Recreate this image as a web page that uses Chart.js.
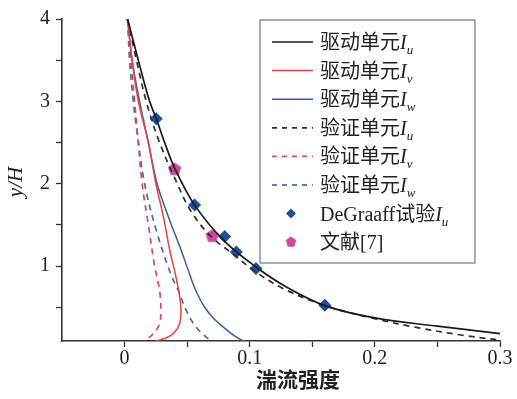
<!DOCTYPE html>
<html>
<head>
<meta charset="utf-8">
<script src="https://cdn.jsdelivr.net/npm/chart.js@4/dist/chart.umd.min.js"></script>
<style>
  body { margin: 0; background: #fff; }
  #wrap { width: 517px; height: 399px; }
</style>
</head>
<body>
<div id="wrap"><canvas id="myChart" width="517" height="399"></canvas></div>
<script>
// curves: x = turbulence intensity, y = y/H
var driveIuX = [0.0024, 0.012, 0.020, 0.0253, 0.032, 0.040, 0.056, 0.080, 0.1067, 0.13, 0.16, 0.20, 0.25, 0.30];
var driveIuY = [4.0, 3.44, 3.0, 2.79, 2.5, 2.19, 1.74, 1.30, 0.97, 0.74, 0.52, 0.37, 0.27, 0.18];

var driveIvX = [0.0024, 0.006, 0.011, 0.019, 0.025, 0.031, 0.036, 0.042, 0.045, 0.044, 0.039, 0.032, 0.025];
var driveIvY = [4.0, 3.5, 3.0, 2.5, 2.0, 1.6, 1.2, 0.8, 0.5, 0.3, 0.18, 0.12, 0.09];

var driveIwX = [0.0024, 0.006, 0.012, 0.019, 0.026, 0.035, 0.045, 0.052, 0.057, 0.064, 0.072, 0.082, 0.090, 0.095];
var driveIwY = [4.0, 3.5, 3.0, 2.5, 2.0, 1.6, 1.2, 0.9, 0.7, 0.5, 0.35, 0.22, 0.13, 0.09];

var verifyIuX = [0.0024, 0.0095, 0.0173, 0.0267, 0.040, 0.0533, 0.069, 0.088, 0.101, 0.125, 0.16, 0.20, 0.235, 0.27, 0.30];
var verifyIuY = [4.0, 3.5, 3.0, 2.55, 2.07, 1.66, 1.36, 1.13, 0.97, 0.74, 0.52, 0.36, 0.25, 0.16, 0.10];

var verifyIvX = [0.0024, 0.005, 0.008, 0.011, 0.014, 0.019, 0.024, 0.028, 0.029, 0.028, 0.023, 0.017];
var verifyIvY = [4.0, 3.5, 3.0, 2.5, 2.0, 1.5, 1.0, 0.7, 0.47, 0.3, 0.18, 0.10];

var verifyIwX = [0.0024, 0.004, 0.007, 0.0093, 0.016, 0.026, 0.037, 0.043, 0.049, 0.057, 0.068];
var verifyIwY = [4.0, 3.5, 3.0, 2.7, 2.0, 1.4, 0.9, 0.7, 0.47, 0.26, 0.10];

var degraaffX = [0.0253, 0.056, 0.080, 0.0893, 0.105, 0.16];
var degraaffY = [2.79, 1.74, 1.36, 1.17, 0.97, 0.524];

var refX = [0.040, 0.070];
var refY = [2.18, 1.37];

var legendNames = ['驱动单元', '驱动单元', '驱动单元', '验证单元', '验证单元', '验证单元', 'DeGraaff试验', '文献[7]'];
var legendSubs = ['u', 'v', 'w', 'u', 'v', 'w', 'u', ''];

var xTicks = [0, 0.05, 0.1, 0.15, 0.2, 0.25, 0.3];
var xLabels = [0, 0.1, 0.2, 0.3];
var yTicks = [0.5, 1, 1.5, 2, 2.5, 3, 3.5, 4];
var yLabels = [1, 2, 3, 4];

var serif = '"Liberation Serif", "Noto Sans CJK SC", serif';

function pts(xs, ys) {
    return xs.map(function (x, i) { return { x: x, y: ys[i] }; });
}

// pentagon marker for 文献[7]
var penta = document.createElement('canvas');
penta.width = 15; penta.height = 15;
(function () {
    var c = penta.getContext('2d');
    c.fillStyle = '#cc4a9b';
    c.beginPath();
    for (var k = 0; k < 5; k++) {
        var a = -Math.PI / 2 + k * 2 * Math.PI / 5;
        var px = 7.5 + 7 * Math.cos(a), py = 8 + 7 * Math.sin(a);
        if (k == 0) c.moveTo(px, py); else c.lineTo(px, py);
    }
    c.closePath();
    c.fill();
})();

function lineSet(xs, ys, color, dash, width, i) {
    return {
        data: pts(xs, ys),
        showLine: true,
        borderColor: color,
        borderWidth: width,
        borderDash: dash,
        pointRadius: 0,
        tension: 0.35,
        fill: false,
        legendText: legendNames[i],
        legendSub: legendSubs[i]
    };
}

var datasets = [
    lineSet(driveIuX, driveIuY, '#1a1a1a', [], 1.7, 0),
    lineSet(driveIvX, driveIvY, '#e8423f', [], 1.5, 1),
    lineSet(driveIwX, driveIwY, '#3b5ba5', [], 1.5, 2),
    lineSet(verifyIuX, verifyIuY, '#2e2e2e', [6, 5], 1.7, 3),
    lineSet(verifyIvX, verifyIvY, '#d9486a', [6, 5], 1.7, 4),
    lineSet(verifyIwX, verifyIwY, '#4a6a96', [6, 5], 1.7, 5),
    {
        data: pts(degraaffX, degraaffY),
        showLine: false,
        pointStyle: 'rectRot',
        pointRadius: 6.5,
        pointBackgroundColor: '#1f4f9e',
        pointBorderColor: '#1f4f9e',
        pointBorderWidth: 0,
        legendText: legendNames[6],
        legendSub: legendSubs[6]
    },
    {
        data: pts(refX, refY),
        showLine: false,
        pointStyle: penta,
        pointRadius: 7,
        legendText: legendNames[7],
        legendSub: legendSubs[7]
    }
];

// legend box and axis titles
var decorPlugin = {
    id: 'decor',
    afterDraw: function (chart) {
        var ctx = chart.ctx;
        ctx.save();

        // y title
        ctx.fillStyle = '#222';
        ctx.font = 'italic 21px ' + serif;
        ctx.textAlign = 'center';
        ctx.textBaseline = 'middle';
        ctx.translate(16, 182);
        ctx.rotate(-Math.PI / 2);
        ctx.fillText('y/H', 0, 0);
        ctx.setTransform(1, 0, 0, 1, 0, 0);

        // x title
        ctx.font = 'bold 21px ' + serif;
        ctx.fillText('湍流强度', 298, 382);

        // legend
        var bx = 260, by = 20, bw = 215, bh = 243;
        ctx.fillStyle = '#fff';
        ctx.fillRect(bx, by, bw, bh);
        ctx.strokeStyle = '#777';
        ctx.lineWidth = 1.2;
        ctx.strokeRect(bx, by, bw, bh);

        chart.data.datasets.forEach(function (ds, i) {
            var y = 42 + i * 28.6;
            if (ds.showLine) {
                ctx.strokeStyle = ds.borderColor;
                ctx.lineWidth = ds.borderWidth;
                ctx.setLineDash(ds.borderDash.length ? [5, 5] : []);
                ctx.beginPath();
                ctx.moveTo(272, y);
                ctx.lineTo(313, y);
                ctx.stroke();
                ctx.setLineDash([]);
            } else if (ds.pointStyle == 'rectRot') {
                ctx.fillStyle = ds.pointBackgroundColor;
                ctx.beginPath();
                ctx.moveTo(291 - 5, y);
                ctx.lineTo(291, y - 5);
                ctx.lineTo(291 + 5, y);
                ctx.lineTo(291, y + 5);
                ctx.closePath();
                ctx.fill();
            } else {
                ctx.drawImage(penta, 291 - 6, y - 6.5, 12, 12);
            }

            ctx.fillStyle = '#222';
            ctx.textAlign = 'left';
            ctx.textBaseline = 'alphabetic';
            var tx = 320, base = y + 7;
            ctx.font = '20px ' + serif;
            ctx.fillText(ds.legendText, tx, base);
            tx += ctx.measureText(ds.legendText).width;
            if (ds.legendSub) {
                ctx.font = 'italic 20px ' + serif;
                ctx.fillText('I', tx, base);
                tx += ctx.measureText('I').width;
                ctx.font = 'italic 13px ' + serif;
                ctx.fillText(ds.legendSub, tx, base + 5);
            }
        });
        ctx.restore();
    }
};

var tickFont = { family: serif, size: 20 };

new Chart(document.getElementById('myChart'), {
    type: 'scatter',
    data: { datasets: datasets },
    plugins: [decorPlugin],
    options: {
        responsive: false,
        animation: false,
        devicePixelRatio: 1,
        layout: { padding: { left: 0, right: 17, top: 19, bottom: 0 } },
        plugins: {
            legend: { display: false },
            tooltip: { enabled: false }
        },
        scales: {
            x: {
                type: 'linear',
                min: -0.05,
                max: 0.3,
                afterBuildTicks: function (scale) {
                    scale.ticks = xTicks.map(function (v) { return { value: v }; });
                },
                afterFit: function (scale) { scale.height = 58; },
                ticks: {
                    font: tickFont,
                    color: '#222',
                    padding: 0,
                    maxRotation: 0,
                    autoSkip: false,
                    callback: function (v) { return xLabels.indexOf(v) >= 0 ? String(v) : ''; }
                },
                grid: {
                    drawOnChartArea: false,
                    drawTicks: true,
                    tickLength: 6,
                    tickColor: '#333',
                    tickWidth: 1.3
                },
                border: { display: true, color: '#333', width: 1.6 }
            },
            y: {
                type: 'linear',
                min: 0.09,
                max: 4,
                afterBuildTicks: function (scale) {
                    scale.ticks = yTicks.map(function (v) { return { value: v }; });
                },
                afterFit: function (scale) { scale.width = 62; },
                ticks: {
                    font: tickFont,
                    color: '#222',
                    padding: 6,
                    autoSkip: false,
                    callback: function (v) { return yLabels.indexOf(v) >= 0 ? String(v) : ''; }
                },
                grid: {
                    drawOnChartArea: false,
                    drawTicks: true,
                    tickLength: 6,
                    tickColor: '#333',
                    tickWidth: 1.3
                },
                border: { display: true, color: '#333', width: 1.6 }
            }
        }
    }
});
</script>
</body>
</html>
